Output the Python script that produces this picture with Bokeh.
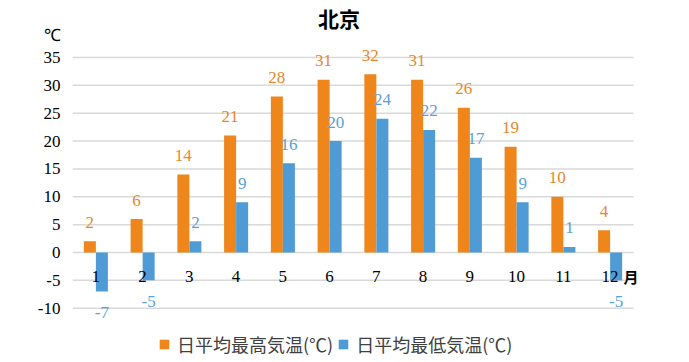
from bokeh.plotting import figure
from bokeh.models import ColumnDataSource, Legend, LegendItem, FixedTicker, Range1d
from bokeh.core.properties import value
from bokeh.transform import dodge
from bokeh.embed import file_html
from bokeh.resources import INLINE

# ---- data ----
months = [1, 2, 3, 4, 5, 6, 7, 8, 9, 10, 11, 12]
month_labels = ["1", "2", "3", "4", "5", "6", "7", "8", "9", "10", "11", "12"]
high = [2, 6, 14, 21, 28, 31, 32, 31, 26, 19, 10, 4]
low = [-7, -5, 2, 9, 16, 20, 24, 22, 17, 9, 1, -5]
y_ticks = [-10, -5, 0, 5, 10, 15, 20, 25, 30, 35]
title_text = "北京"
unit_text = "℃"
month_suffix = "月"
series_names = ["日平均最高気温(℃)", "日平均最低気温(℃)"]

# ---- styles ----
ORANGE = "#EE861B"
BLUE = "#4E9BD6"
ORANGE_TXT = "#E8872E"
BLUE_TXT = "#5A9FD8"
SERIF = "Liberation Serif, serif"
CJK = "Noto Sans CJK JP"
BAR_W = 0.257
SHIFT = 0.1285
UNIT_TICK = 39

src = ColumnDataSource(dict(
    month=months,
    mlabel=month_labels,
    high=high,
    low=low,
    high_lbl=[str(v) for v in high],
    low_lbl=[str(v) for v in low],
    high_off=[-19 if v >= 0 else 21 for v in high],
    low_off=[-19 if v >= 0 else 21 for v in low],
))
grid_src = ColumnDataSource(dict(y=y_ticks))

x_lo, x_hi = 0.5, 12.5
p = figure(width=689, height=362, title=None,
           x_range=Range1d(x_lo, 13.698), y_range=Range1d(-19.74, 45.23),
           output_backend="svg", toolbar_location=None, x_axis_location=None,
           min_border_left=72, min_border_right=0, min_border_top=0, min_border_bottom=0)
p.outline_line_color = None
p.background_fill_color = "white"
p.border_fill_color = "white"

# horizontal gridlines over the category span
p.segment(x0=x_lo, x1=x_hi, y0="y", y1="y", line_color="#d9d9d9", line_width=1.5,
          source=grid_src)

r_hi = p.vbar(x=dodge("month", -SHIFT, range=p.x_range), top="high", bottom=0, width=BAR_W,
              fill_color=ORANGE, line_color=None, source=src)
r_lo = p.vbar(x=dodge("month", SHIFT, range=p.x_range), top="low", bottom=0, width=BAR_W,
              fill_color=BLUE, line_color=None, source=src)

p.text(x=dodge("month", -SHIFT, range=p.x_range), y="high", text="high_lbl", y_offset="high_off",
       text_align="center", text_baseline="middle", text_font=value(SERIF),
       text_font_size="17px", text_color=ORANGE_TXT, source=src)
p.text(x=dodge("month", SHIFT, range=p.x_range), y="low", text="low_lbl", y_offset="low_off",
       text_align="center", text_baseline="middle", text_font=value(SERIF),
       text_font_size="17px", text_color=BLUE_TXT, source=src)

# month labels inside plot
p.text(x="month", y=-4.31, text="mlabel", text_align="center", text_baseline="middle",
       text_font=value(SERIF), text_font_size="17px", text_color="black", source=src)
p.text(x=[months[-1]], y=[-4.31], x_offset=21, text=[month_suffix], text_align="center",
       text_baseline="middle", text_font=value(CJK), text_font_size="15px",
       text_font_style="bold", text_color="black")

# title
p.text(x=[6.2], y=[42.0], text=[title_text], text_align="center", text_baseline="middle",
       text_font=value(CJK), text_font_size="21px", text_font_style="bold", text_color="black")

# y axis
ax = p.yaxis[0]
ax.ticker = FixedTicker(ticks=y_ticks + [UNIT_TICK])
overrides = {t: str(t) for t in y_ticks}
overrides[UNIT_TICK] = unit_text
ax.major_label_overrides = overrides
ax.axis_line_color = None
ax.major_tick_line_color = None
ax.minor_tick_line_color = None
ax.major_tick_in = 0
ax.major_tick_out = 0
ax.major_label_standoff = 12
ax.major_label_text_font = SERIF
ax.major_label_text_font_size = "17px"
ax.major_label_text_color = "black"

for g in p.ygrid:
    g.visible = False
for g in p.xgrid:
    g.visible = False

legend = Legend(items=[LegendItem(label=series_names[0], renderers=[r_hi]),
                       LegendItem(label=series_names[1], renderers=[r_lo])],
                orientation="horizontal", location=(86, 5),
                glyph_width=12, glyph_height=12, label_standoff=7, spacing=4,
                padding=0, margin=0, border_line_color=None, background_fill_alpha=0,
                label_text_font=CJK, label_text_font_size="18px", label_text_color="#404040")
p.add_layout(legend)

open("out.html", "w").write(file_html(p, INLINE))
